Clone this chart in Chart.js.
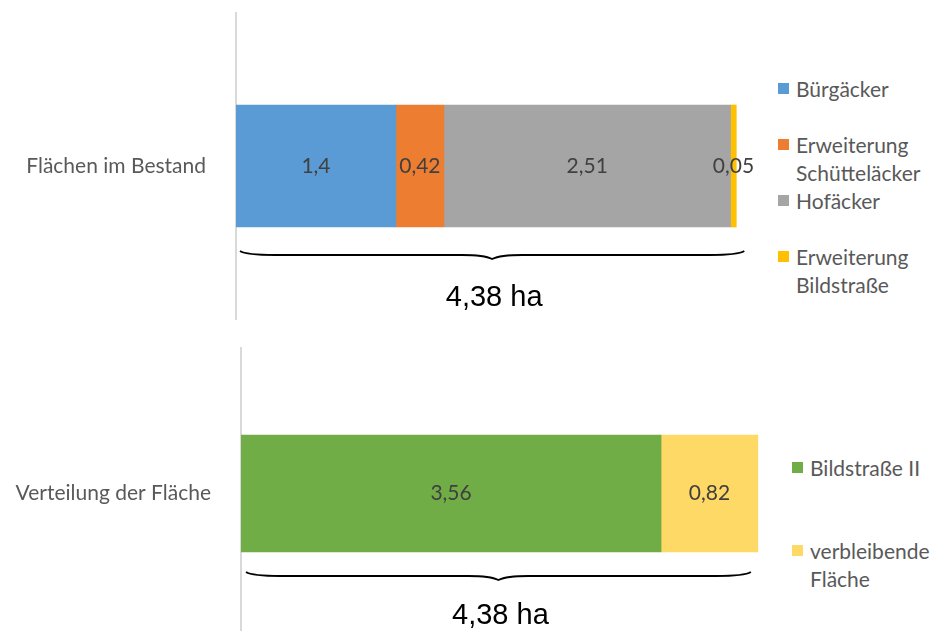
<!DOCTYPE html>
<html>
<head>
<meta charset="utf-8">
<script src="https://cdn.jsdelivr.net/npm/chart.js@4.4.1/dist/chart.umd.min.js"></script>
<style>
  html, body { margin: 0; padding: 0; background: #fff; }
  body { width: 939px; height: 631px; position: relative; overflow: hidden; }
  canvas { position: absolute; left: 0; }
  #topChart { top: 0; }
  #bottomChart { top: 330px; }
  .legend { position: absolute; font-family: Lato, sans-serif; font-size: 21px; color: #595959; line-height: 28px; }
  .legend .item { position: relative; padding-left: 18px; }
  .legend .box { position: absolute; left: 0; top: 8px; width: 11px; height: 11px; }
  #topLegend { left: 778px; top: 75px; }
  #topLegend .item { height: 56px; width: 155px; }
  #bottomLegend { left: 792px; top: 454px; }
  #bottomLegend .item { height: 83px; width: 145px; }
</style>
</head>
<body>
<canvas id="topChart" width="760" height="330"></canvas>
<canvas id="bottomChart" width="780" height="309"></canvas>
<div id="topLegend" class="legend"></div>
<div id="bottomLegend" class="legend"></div>
<script>
// data
const topCategories = ['Flächen im Bestand'];
const topSeries = ['Bürgäcker', 'Erweiterung Schütteläcker', 'Hofäcker', 'Erweiterung Bildstraße'];
const topValues = [1.4, 0.42, 2.51, 0.05];
const topColors = ['#5B9BD5', '#ED7D31', '#A5A5A5', '#FFC000'];

const bottomCategories = ['Verteilung der Fläche'];
const bottomSeries = ['Bildstraße II', 'verbleibende Fläche'];
const bottomValues = [3.56, 0.82];
const bottomColors = ['#70AD47', '#FFD966'];

const xMax = 4.5;
const unit = 'ha';

const fmt = v => String(Math.round(v * 100) / 100).replace('.', ',');

// value labels in the middle of each segment
const valueLabels = {
    id: 'valueLabels',
    afterDatasetsDraw(chart) {
        const ctx = chart.ctx;
        ctx.save();
        ctx.font = '21px Lato, sans-serif';
        ctx.fillStyle = '#404040';
        ctx.textAlign = 'center';
        ctx.textBaseline = 'middle';
        chart.data.datasets.forEach((ds, i) => {
            chart.getDatasetMeta(i).data.forEach((bar, j) => {
                ctx.fillText(fmt(ds.data[j]), (bar.x + bar.base) / 2, bar.y);
            });
        });
        ctx.restore();
    }
};

// curly brace + total under the bar
const totalBrace = {
    id: 'totalBrace',
    afterDraw(chart, args, opts) {
        const metas = chart.data.datasets.map((d, i) => chart.getDatasetMeta(i));
        const first = metas[0].data[0];
        const last = metas[metas.length - 1].data[0];
        const x0 = first.base + opts.inset;
        const x1 = last.x + opts.extend;
        const y = first.y + first.height / 2 + opts.gap;
        const h = opts.height;
        const xm = (x0 + x1) / 2;
        const ctx = chart.ctx;
        ctx.save();
        ctx.strokeStyle = '#000';
        ctx.lineWidth = 1.8;
        ctx.beginPath();
        ctx.moveTo(x0, y);
        ctx.quadraticCurveTo(x0 + 6, y + h / 2, x0 + 35, y + h / 2);
        ctx.lineTo(xm - 30, y + h / 2);
        ctx.quadraticCurveTo(xm - 8, y + h / 2, xm, y + h);
        ctx.quadraticCurveTo(xm + 8, y + h / 2, xm + 30, y + h / 2);
        ctx.lineTo(x1 - 35, y + h / 2);
        ctx.quadraticCurveTo(x1 - 6, y + h / 2, x1, y);
        ctx.stroke();

        const total = chart.data.datasets.reduce((s, d) => s + d.data[0], 0);
        ctx.font = '29px "Liberation Sans", Arial, sans-serif';
        ctx.fillStyle = '#000';
        ctx.textAlign = 'center';
        ctx.textBaseline = 'middle';
        ctx.fillText(fmt(total) + ' ' + unit, xm + 2, y + opts.textOffset);
        ctx.restore();
    }
};

function makeChart(el, categories, series, values, colors, cfg) {
    return new Chart(el, {
        type: 'bar',
        data: {
            labels: categories,
            datasets: series.map((name, i) => ({
                label: name,
                data: [values[i]],
                backgroundColor: colors[i],
                borderWidth: 0,
                barThickness: cfg.barThickness
            }))
        },
        options: {
            indexAxis: 'y',
            responsive: false,
            animation: false,
            layout: { padding: cfg.padding },
            scales: {
                x: { stacked: true, display: false, min: 0, max: xMax },
                y: {
                    stacked: true,
                    grid: { display: false },
                    border: { display: true, color: '#D9D9D9', width: 2 },
                    ticks: {
                        padding: 22,
                        color: '#595959',
                        font: { family: 'Lato', size: 21 }
                    },
                    afterFit(scale) {
                        scale.width = cfg.axisWidth;
                        scale.paddingTop = 0;
                        scale.paddingBottom = 0;
                    }
                }
            },
            plugins: {
                legend: { display: false },
                tooltip: { enabled: false },
                totalBrace: cfg.brace
            }
        },
        plugins: [valueLabels, totalBrace]
    });
}

makeChart(document.getElementById('topChart'), topCategories, topSeries, topValues, topColors, {
    barThickness: 122,
    axisWidth: 236,
    padding: { top: 13, bottom: 11, left: 0, right: 10 },
    brace: { inset: 4, extend: 8, gap: 24, height: 8, textOffset: 47 }
});

makeChart(document.getElementById('bottomChart'), bottomCategories, bottomSeries, bottomValues, bottomColors, {
    barThickness: 117,
    axisWidth: 241,
    padding: { top: 18, bottom: 0, left: 0, right: 8 },
    brace: { inset: 5, extend: -7, gap: 20, height: 8, textOffset: 44 }
});

// html legends built from the same arrays
function buildLegend(id, series, colors) {
    const box = document.getElementById(id);
    series.forEach((name, i) => {
        const item = document.createElement('div');
        item.className = 'item';
        item.innerHTML = '<span class="box" style="background:' + colors[i] + '"></span>' + name;
        box.appendChild(item);
    });
}
buildLegend('topLegend', topSeries, topColors);
buildLegend('bottomLegend', bottomSeries, bottomColors);
</script>
</body>
</html>
